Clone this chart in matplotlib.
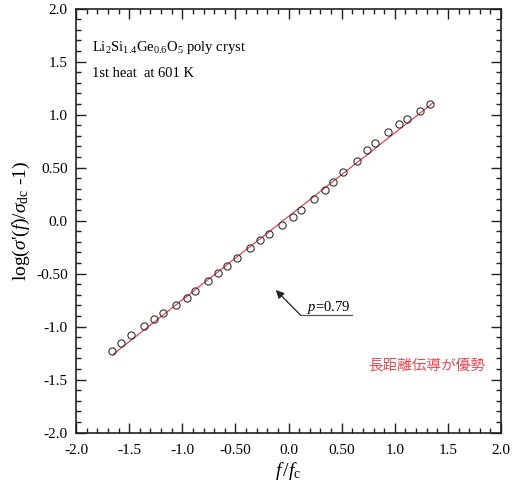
import matplotlib
matplotlib.use("Agg")
import matplotlib.pyplot as plt
from matplotlib.ticker import MultipleLocator, FixedLocator

plt.rcParams['font.family'] = ['Liberation Serif', 'Noto Sans CJK JP']
plt.rcParams['mathtext.fontset'] = 'custom'
plt.rcParams['mathtext.rm'] = 'Liberation Serif'
plt.rcParams['mathtext.it'] = 'Liberation Serif:italic'

# data
x_data = [-1.661, -1.576, -1.482, -1.360, -1.263, -1.181, -1.059, -0.958, -0.880,
          -0.755, -0.661, -0.579, -0.485, -0.362, -0.265, -0.184, -0.061, 0.040,
          0.115, 0.243, 0.341, 0.422, 0.513, 0.642, 0.736, 0.817, 0.939, 1.037,
          1.115, 1.240, 1.335]
y_data = [-1.227, -1.154, -1.076, -0.991, -0.928, -0.871, -0.793, -0.727, -0.664,
          -0.570, -0.494, -0.425, -0.350, -0.256, -0.186, -0.129, -0.041, 0.031,
          0.100, 0.207, 0.291, 0.364, 0.455, 0.562, 0.663, 0.735, 0.835, 0.911,
          0.961, 1.031, 1.097]
fit_x = [-1.65, 1.36]
fit_y = [-1.26, 1.11]
tick_vals = [-2.0, -1.5, -1.0, -0.5, 0.0, 0.5, 1.0, 1.5, 2.0]
tick_labels = ["-2.0", "-1.5", "-1.0", "-0.50", "0.0", "0.50", "1.0", "1.5", "2.0"]

fig = plt.figure(figsize=(5.13, 4.84), dpi=100)
ax = fig.add_axes([76/513, 1-432.7/484, 425/513, 424.2/484])

ax.plot(fit_x, fit_y, color='#e0474f', lw=0.9, zorder=2)
ax.plot(x_data, y_data, 'o', mfc='none', mec='#333333', mew=0.8, ms=5.2, zorder=3)

ax.set_xlim(-2, 2)
ax.set_ylim(-2, 2)
ax.xaxis.set_major_locator(FixedLocator(tick_vals))
ax.yaxis.set_major_locator(FixedLocator(tick_vals))
ax.set_xticklabels(tick_labels)
ax.set_yticklabels(tick_labels)
ax.xaxis.set_minor_locator(MultipleLocator(0.1))
ax.yaxis.set_minor_locator(MultipleLocator(0.1))
ax.tick_params(which='both', direction='in', top=True, right=True, width=1.0,
               labelsize=11, color='#222222')
ax.tick_params(which='major', length=7)
ax.tick_params(which='minor', length=3.8)
ax.tick_params(axis='x', pad=8)
ax.tick_params(axis='y', pad=6)
for s in ax.spines.values():
    s.set_linewidth(1.2)
    s.set_color('#222222')

ax.set_ylabel(r"log($\sigma$'($f$)/$\sigma_{\rm dc}$ -1)", fontsize=14, labelpad=3)
ax.set_xlabel(r"$f\,/f_{\rm c}$", fontsize=14, labelpad=2)

ax.text(-1.85, 1.63, r"Li$_2$Si$_{1.4}$Ge$_{0.6}$O$_5$ poly cryst", fontsize=10.5,
        va='center', ha='left')
ax.text(-1.85, 1.39, "1st heat  at 601 K", fontsize=10.5, va='center', ha='left')

ax.annotate("", xy=(-0.12, -0.655), xytext=(0.115, -0.893),
            arrowprops=dict(arrowstyle='-|>', color='#222222', lw=0.9,
                            mutation_scale=12, shrinkA=0, shrinkB=0))
ax.plot([0.115, 0.595], [-0.893, -0.893], color='#555555', lw=0.9)
ax.text(0.17, -0.815, r"$p$=0.79", fontsize=10.5, va='center', ha='left')

ax.text(1.85, -1.377, "長距離伝導が優勢", fontsize=10.5, color='#e8474f',
        va='center', ha='right', family=['Noto Sans CJK JP'])

fig.savefig("out.png", dpi=100)
